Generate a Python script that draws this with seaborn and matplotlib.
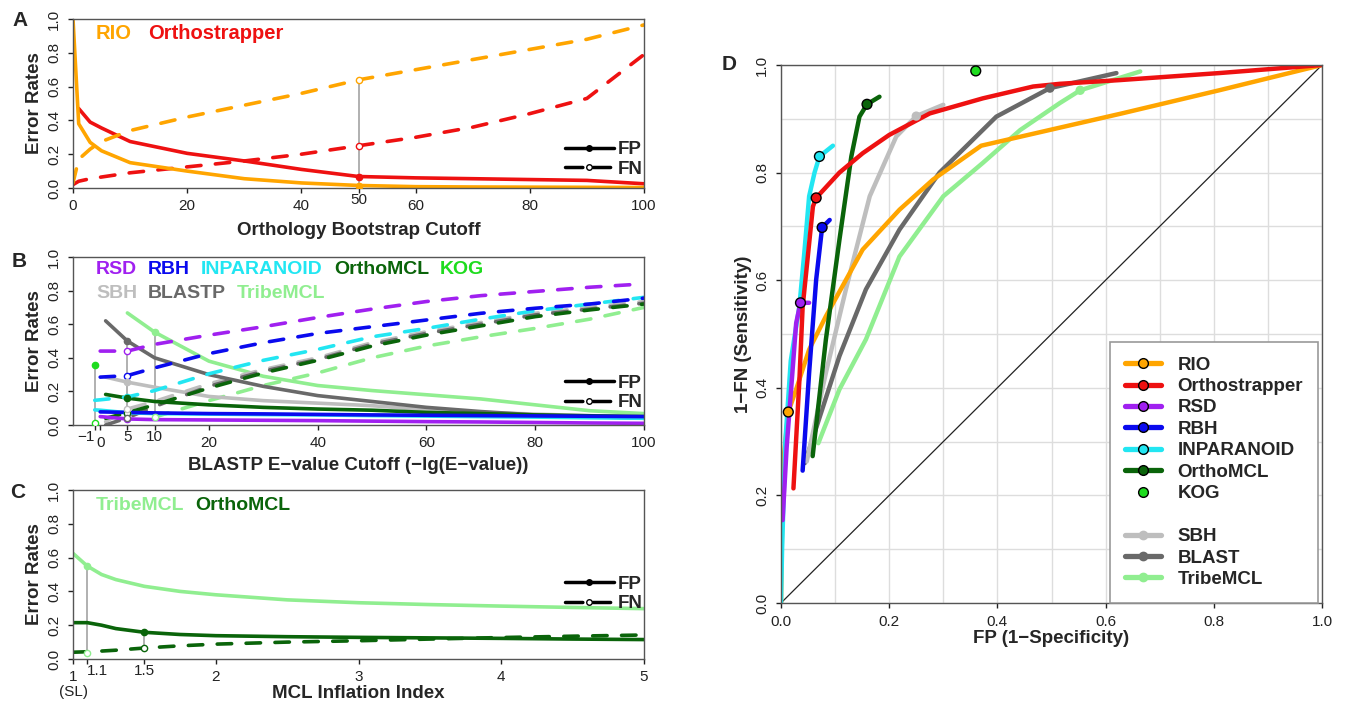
import pandas as pd
import matplotlib
matplotlib.use("Agg")
import matplotlib.pyplot as plt
import matplotlib.transforms as mtransforms
from matplotlib.lines import Line2D
import numpy as np
import seaborn as sns

# ---------------- colours ----------------
colors = {
    "RIO": "#FFA500", "Orthostrapper": "#EE1111", "RSD": "#A020F0",
    "RBH": "#0A0AEE", "INPARANOID": "#22E6F2", "OrthoMCL": "#0A640A",
    "KOG": "#1EDC1E", "SBH": "#BEBEBE", "BLASTP": "#696969",
    "BLAST": "#696969", "TribeMCL": "#90EE90",
}

# ---------------- panel A: bootstrap cutoff ----------------
a_x = [0, 1, 3, 5, 10, 20, 30, 40, 50, 60, 70, 80, 90, 100]
a_rio_fp = [1.0, 0.38, 0.27, 0.22, 0.15, 0.10, 0.055, 0.03, 0.015, 0.008, 0.006, 0.005, 0.004, 0.003]
a_rio_fn = [0.03, 0.17, 0.23, 0.275, 0.34, 0.42, 0.49, 0.56, 0.64, 0.70, 0.76, 0.82, 0.88, 0.965]
a_orth_fp_x = [1, 3, 5, 10, 20, 30, 40, 50, 60, 70, 80, 90, 100]
a_orth_fp = [0.47, 0.39, 0.355, 0.275, 0.205, 0.16, 0.11, 0.068, 0.06, 0.055, 0.05, 0.045, 0.025]
a_orth_fn = [0.02, 0.04, 0.055, 0.065, 0.09, 0.125, 0.16, 0.20, 0.25, 0.30, 0.36, 0.44, 0.53, 0.79]
a_mark_methods = ["RIO", "Orthostrapper"]
a_mark_x = [50, 50]
a_mark_fp = [0.012, 0.068]
a_mark_fn = [0.64, 0.25]

# ---------------- panel B: BLASTP e-value cutoff ----------------
b_x = [0, 5, 10, 20, 30, 40, 50, 60, 70, 80, 90, 100]
b_x1 = [1, 5, 10, 20, 30, 40, 50, 60, 70, 80, 90, 100]
b_xm1 = [-1, 0, 5, 10, 20, 30, 40, 50, 60, 70, 80, 90, 100]
b_rsd_fn = [0.44, 0.44, 0.48, 0.535, 0.585, 0.64, 0.69, 0.735, 0.77, 0.795, 0.82, 0.84]
b_rsd_fp = [0.05, 0.036, 0.032, 0.03, 0.028, 0.026, 0.023, 0.02, 0.018, 0.015, 0.012, 0.01]
b_rbh_fn = [0.285, 0.294, 0.34, 0.425, 0.49, 0.545, 0.585, 0.625, 0.665, 0.695, 0.72, 0.755]
b_rbh_fp = [0.078, 0.075, 0.072, 0.068, 0.066, 0.063, 0.06, 0.058, 0.056, 0.054, 0.052, 0.05]
b_inp_fn = [0.147, 0.15, 0.167, 0.205, 0.305, 0.385, 0.45, 0.525, 0.575, 0.63, 0.68, 0.72, 0.76]
b_inp_fp = [0.09, 0.088, 0.073, 0.068, 0.065, 0.062, 0.06, 0.056, 0.053, 0.05, 0.047, 0.043, 0.04]
b_omcl_fn = [0.04, 0.073, 0.12, 0.22, 0.31, 0.385, 0.47, 0.535, 0.59, 0.645, 0.685, 0.72]
b_omcl_fp = [0.182, 0.16, 0.14, 0.12, 0.105, 0.095, 0.088, 0.075, 0.068, 0.06, 0.055, 0.05]
b_sbh_fn = [0.02, 0.095, 0.14, 0.245, 0.33, 0.40, 0.49, 0.555, 0.61, 0.665, 0.70, 0.735]
b_sbh_fp = [0.285, 0.255, 0.225, 0.17, 0.145, 0.13, 0.115, 0.09, 0.075, 0.065, 0.055, 0.05]
b_blast_fn = [0.0, 0.043, 0.11, 0.23, 0.32, 0.39, 0.48, 0.545, 0.60, 0.655, 0.69, 0.725]
b_blast_fp = [0.62, 0.50, 0.40, 0.30, 0.23, 0.175, 0.14, 0.105, 0.08, 0.06, 0.05, 0.04]
b_tribe_fp_x = [5, 10, 20, 30, 40, 50, 60, 70, 80, 90, 100]
b_tribe_fp = [0.667, 0.553, 0.38, 0.29, 0.235, 0.205, 0.18, 0.155, 0.12, 0.085, 0.068]
b_tribe_fn_x = [10, 20, 30, 40, 50, 60, 70, 80, 90, 100]
b_tribe_fn = [0.047, 0.145, 0.235, 0.31, 0.40, 0.47, 0.525, 0.575, 0.63, 0.70]
b_mark_methods = ["RSD", "RBH", "INPARANOID", "OrthoMCL", "SBH", "BLASTP", "TribeMCL", "KOG"]
b_mark_x = [5, 5, 5, 5, 5, 5, 10, -1]
b_mark_fp = [0.036, 0.075, 0.073, 0.16, 0.255, 0.50, 0.553, 0.36]
b_mark_fn = [0.44, 0.294, 0.167, 0.073, 0.095, 0.043, 0.047, 0.011]

# ---------------- panel C: MCL inflation ----------------
c_x = [1, 1.1, 1.2, 1.3, 1.5, 1.75, 2, 2.5, 3, 3.5, 4, 4.5, 5]
c_tribe_fp = [0.625, 0.55, 0.50, 0.47, 0.43, 0.40, 0.38, 0.35, 0.333, 0.322, 0.313, 0.305, 0.298]
c_omcl_fp = [0.215, 0.215, 0.20, 0.18, 0.158, 0.145, 0.138, 0.132, 0.128, 0.125, 0.122, 0.118, 0.115]
c_omcl_fn = [0.04, 0.043, 0.047, 0.052, 0.065, 0.078, 0.088, 0.10, 0.108, 0.118, 0.127, 0.135, 0.142]
c_mark_methods = ["TribeMCL", "OrthoMCL"]
c_mark_x = [1.1, 1.5]
c_mark_fp = [0.55, 0.158]
c_mark_fn = [0.033, 0.065]

# ---------------- panel D: ROC ----------------
d_curves = {
    "TribeMCL": ([0.069, 0.108, 0.157, 0.219, 0.30, 0.373, 0.442, 0.515, 0.553, 0.664],
                 [0.297, 0.397, 0.49, 0.644, 0.756, 0.818, 0.879, 0.929, 0.953, 0.988]),
    "BLAST": ([0.044, 0.108, 0.157, 0.219, 0.293, 0.398, 0.497, 0.62],
              [0.26, 0.459, 0.583, 0.694, 0.80, 0.904, 0.957, 0.985]),
    "SBH": ([0.0475, 0.083, 0.12, 0.164, 0.213, 0.25, 0.30],
            [0.263, 0.428, 0.583, 0.756, 0.867, 0.905, 0.926]),
    "RIO": ([0, 0.002, 0.006, 0.0135, 0.028, 0.052, 0.083, 0.151, 0.219, 0.281, 0.37, 0.5, 0.63, 0.81, 1.0],
            [0, 0.15, 0.28, 0.355, 0.397, 0.471, 0.533, 0.657, 0.731, 0.787, 0.85, 0.88, 0.91, 0.953, 1.0]),
    "OrthoMCL": ([0.0585, 0.083, 0.108, 0.13, 0.145, 0.159, 0.182],
                 [0.273, 0.49, 0.675, 0.83, 0.904, 0.927, 0.941]),
    "INPARANOID": ([0.0, 0.002, 0.008, 0.018, 0.034, 0.043, 0.052, 0.062, 0.071, 0.096],
                   [0.0, 0.1, 0.3, 0.45, 0.552, 0.65, 0.756, 0.80, 0.83, 0.85]),
    "RBH": ([0.04, 0.052, 0.065, 0.076, 0.09], [0.246, 0.428, 0.601, 0.698, 0.712]),
    "RSD": ([0.003, 0.0105, 0.02, 0.028, 0.036, 0.052], [0.154, 0.29, 0.414, 0.52, 0.558, 0.558]),
    "Orthostrapper": ([0.023, 0.034, 0.04, 0.059, 0.065, 0.108, 0.151, 0.2, 0.275, 0.373, 0.466, 0.515, 0.627, 0.81, 1.0],
                      [0.213, 0.414, 0.55, 0.737, 0.753, 0.80, 0.836, 0.87, 0.91, 0.938, 0.96, 0.965, 0.972, 0.985, 1.0]),
}
d_pt_methods = ["RIO", "Orthostrapper", "RSD", "RBH", "INPARANOID", "OrthoMCL", "KOG", "SBH", "BLAST", "TribeMCL"]
d_pt_fp = [0.0135, 0.065, 0.036, 0.076, 0.071, 0.159, 0.36, 0.25, 0.497, 0.553]
d_pt_sens = [0.355, 0.753, 0.558, 0.698, 0.83, 0.927, 0.989, 0.905, 0.957, 0.953]
d_edged = ["RIO", "Orthostrapper", "RSD", "RBH", "INPARANOID", "OrthoMCL", "KOG"]


def to_long(series):
    rows = []
    for (method, kind), (xs, ys) in series.items():
        for x, y in zip(xs, ys):
            rows.append({"method": method, "kind": kind, "x": x, "y": y})
    return pd.DataFrame(rows)


sns.set_style("ticks")
plt.rcParams["font.family"] = ["Liberation Sans", "DejaVu Sans"]
plt.rcParams["lines.dash_capstyle"] = "round"

W, H = 1345, 710
fig = plt.figure(figsize=(W / 100, H / 100), dpi=100)
renderer = fig.canvas.get_renderer()


def px_axes(l, t, r, b):
    return fig.add_axes([l / W, 1 - b / H, (r - l) / W, (b - t) / H])


axA = px_axes(73, 19, 644, 188)
axB = px_axes(73, 257, 644, 425)
axC = px_axes(73, 490, 644, 659)
axD = px_axes(781, 65, 1322, 603)

fp_fn_handles = [
    Line2D([], [], color="black", lw=2.5, marker="o", ms=4, mfc="black"),
    Line2D([], [], color="black", lw=2.5, dashes=(5.0, 3.0), marker="o", ms=4, mfc="white", mew=1),
]
TICK_LEN = 3.6
PAD_MAIN, PAD_EXTRA = 4.2, 0.0


def draw_rates(ax, df, order, lw):
    sns.lineplot(data=df, x="x", y="y", hue="method", style="kind", hue_order=order,
                 style_order=["FP", "FN"], palette=colors, dashes={"FP": "", "FN": (4, 4)},
                 estimator=None, errorbar=None, lw=lw, legend=False, ax=ax)


def draw_marks(ax, methods, xs, fps, fns):
    marks = pd.DataFrame({"method": methods, "x": xs, "fp": fps, "fn": fns})
    for x, grp in marks.groupby("x"):
        lo = min(grp["fp"].min(), grp["fn"].min())
        hi = max(grp["fp"].max(), grp["fn"].max())
        ax.vlines(x, lo, hi, color="#AAAAAA", lw=1.3, zorder=1.5)
    for _, r in marks.iterrows():
        c = colors[r["method"]]
        ax.plot(r["x"], r["fp"], "o", ms=4.5, color=c, mec=c, zorder=4)
        ax.plot(r["x"], r["fn"], "o", ms=4.5, mfc="white", mec=c, mew=1, zorder=4)


def style_rates(ax, xlim, xlabel, xlabelpad, leg_y):
    ax.set_xlim(*xlim)
    ax.set_ylim(0, 1)
    yt = np.arange(0, 1.01, 0.2)
    ax.set_yticks(yt)
    ax.set_yticklabels([f"{v:.1f}" for v in yt], rotation=90, va="center")
    ax.tick_params(direction="out", length=TICK_LEN, width=1, colors="#222222", labelsize=11)
    ax.tick_params(axis="y", pad=5)
    for s in ax.spines.values():
        s.set_color("#555555")
        s.set_linewidth(1)
    ax.set_xlabel(xlabel, fontsize=13.5, fontweight="bold", labelpad=xlabelpad)
    ax.set_ylabel("Error Rates", fontsize=13.5, fontweight="bold", labelpad=3)
    ax.legend(handles=fp_fn_handles, labels=["FP", "FN"], loc="center right",
              bbox_to_anchor=(0.997, leg_y), frameon=False, handlelength=2.6,
              handletextpad=0.2, labelspacing=0.12, borderpad=0, borderaxespad=0,
              prop={"weight": "bold", "size": 13.5})


def set_tick_pads(ax, raised):
    for i, t in enumerate(ax.xaxis.get_major_ticks()):
        t.set_pad(PAD_EXTRA if i in raised else PAD_MAIN)


def label_row(ax, names, y_frac, x0=96, gap=12, size=14):
    # coloured method names laid out left to right, x in figure pixels
    trans = mtransforms.blended_transform_factory(fig.transFigure, ax.transAxes)
    x = x0
    for name in names:
        t = ax.text(x / W, y_frac, name, color=colors[name], transform=trans,
                    fontsize=size, fontweight="bold", va="center", ha="left")
        x = t.get_window_extent(renderer=renderer).x1 + gap


# ---- A ----
dfA = to_long({
    ("Orthostrapper", "FP"): (a_orth_fp_x, a_orth_fp),
    ("Orthostrapper", "FN"): (a_x, a_orth_fn),
    ("RIO", "FP"): (a_x, a_rio_fp),
    ("RIO", "FN"): (a_x, a_rio_fn),
})
draw_rates(axA, dfA, ["Orthostrapper", "RIO"], 2.6)
draw_marks(axA, a_mark_methods, a_mark_x, a_mark_fp, a_mark_fn)
style_rates(axA, (0, 100), "Orthology Bootstrap Cutoff", 6.5, 0.17)
axA.set_xticks([0, 20, 40, 50, 60, 80, 100])
set_tick_pads(axA, (3,))
label_row(axA, ["RIO", "Orthostrapper"], 0.915, gap=16, size=14.5)

# ---- B ----
dfB = to_long({
    ("TribeMCL", "FP"): (b_tribe_fp_x, b_tribe_fp),
    ("TribeMCL", "FN"): (b_tribe_fn_x, b_tribe_fn),
    ("BLASTP", "FP"): (b_x1, b_blast_fp),
    ("BLASTP", "FN"): (b_x1, b_blast_fn),
    ("SBH", "FP"): (b_x1, b_sbh_fp),
    ("SBH", "FN"): (b_x1, b_sbh_fn),
    ("OrthoMCL", "FP"): (b_x1, b_omcl_fp),
    ("OrthoMCL", "FN"): (b_x1, b_omcl_fn),
    ("INPARANOID", "FP"): (b_xm1, b_inp_fp),
    ("INPARANOID", "FN"): (b_xm1, b_inp_fn),
    ("RBH", "FP"): (b_x, b_rbh_fp),
    ("RBH", "FN"): (b_x, b_rbh_fn),
    ("RSD", "FP"): (b_x, b_rsd_fp),
    ("RSD", "FN"): (b_x, b_rsd_fn),
})
draw_rates(axB, dfB, ["TribeMCL", "SBH", "BLASTP", "OrthoMCL", "INPARANOID", "RBH", "RSD"], 2.6)
draw_marks(axB, b_mark_methods, b_mark_x, b_mark_fp, b_mark_fn)
style_rates(axB, (-5, 100), "BLASTP E\u2212value Cutoff (\u2212lg(E\u2212value))", 5.5, 0.19)
axB.set_xticks([-1, 0, 5, 10, 20, 40, 60, 80, 100])
axB.set_xticklabels(["\u22121", "0", "5", "10", "20", "40", "60", "80", "100"])
set_tick_pads(axB, (0, 2, 3))
axB.get_xticklabels()[0].set_ha("right")
label_row(axB, ["RSD", "RBH", "INPARANOID", "OrthoMCL", "KOG"], 0.925, gap=11, size=14)
label_row(axB, ["SBH", "BLASTP", "TribeMCL"], 0.78, gap=11, size=14)

# ---- C ----
dfC = to_long({
    ("TribeMCL", "FP"): (c_x, c_tribe_fp),
    ("OrthoMCL", "FP"): (c_x, c_omcl_fp),
    ("OrthoMCL", "FN"): (c_x, c_omcl_fn),
})
draw_rates(axC, dfC, ["TribeMCL", "OrthoMCL"], 2.6)
draw_marks(axC, c_mark_methods, c_mark_x, c_mark_fp, c_mark_fn)
style_rates(axC, (1, 5), "MCL Inflation Index", 1.0, 0.385)
axC.set_xticks([1, 1.1, 1.5, 2, 3, 4, 5])
axC.set_xticklabels(["1", "1.1", "1.5", "2", "3", "4", "5"])
set_tick_pads(axC, (1, 2))
axC.get_xticklabels()[1].set_ha("left")
axC.annotate("(SL)", xy=(1, 0), xycoords=("data", "axes fraction"), xytext=(0, -18.5),
             textcoords="offset points", ha="center", va="top", fontsize=11, color="#222222")
label_row(axC, ["TribeMCL", "OrthoMCL"], 0.91, gap=11, size=14)

# ---- D ----
dfD = pd.concat([pd.DataFrame({"method": m, "fp": v[0], "sens": v[1]}) for m, v in d_curves.items()])
axD.set_xticks(np.arange(0, 1.01, 0.1), minor=True)
axD.set_yticks(np.arange(0, 1.01, 0.1), minor=True)
axD.grid(True, which="both", color="#DDDDDD", lw=1)
axD.set_axisbelow(True)
axD.axline((0, 0), slope=1, color="#222222", lw=0.9, zorder=1.5)
sns.lineplot(data=dfD, x="fp", y="sens", hue="method", hue_order=list(d_curves.keys()),
             palette=colors, sort=False, estimator=None, errorbar=None, lw=3.2,
             legend=False, ax=axD)
pts = pd.DataFrame({"method": d_pt_methods, "fp": d_pt_fp, "sens": d_pt_sens})
edged = pts[pts["method"].isin(d_edged)]
plain = pts[~pts["method"].isin(d_edged)]
sns.scatterplot(data=plain, x="fp", y="sens", hue="method", palette=colors, s=45,
                edgecolor="none", legend=False, ax=axD, zorder=5)
sns.scatterplot(data=edged, x="fp", y="sens", hue="method", palette=colors, s=50,
                edgecolor="black", linewidth=1, legend=False, ax=axD, zorder=6)
axD.set_xlim(0, 1)
axD.set_ylim(0, 1)
ticks = np.arange(0, 1.01, 0.2)
axD.set_xticks(ticks)
axD.set_yticks(ticks)
axD.set_xticklabels([f"{v:.1f}" for v in ticks])
axD.set_yticklabels([f"{v:.1f}" for v in ticks], rotation=90, va="center")
axD.tick_params(which="major", direction="out", length=TICK_LEN, width=1, colors="#222222",
                labelsize=11, pad=5)
axD.tick_params(which="minor", length=0)
for s in axD.spines.values():
    s.set_color("#555555")
    s.set_linewidth(1)
axD.set_xlabel("FP (1\u2212Specificity)", fontsize=13.5, fontweight="bold", labelpad=1)
axD.set_ylabel("1\u2212FN (Sensitivity)", fontsize=13.5, fontweight="bold", labelpad=2)

leg_handles, leg_labels = [], []
for m in ["RIO", "Orthostrapper", "RSD", "RBH", "INPARANOID", "OrthoMCL"]:
    leg_handles.append(Line2D([], [], color=colors[m], lw=3.8, marker="o", ms=7,
                              mfc=colors[m], mec="black", mew=1))
    leg_labels.append(m)
leg_handles.append(Line2D([], [], ls="none", marker="o", ms=7, mfc=colors["KOG"], mec="black", mew=1))
leg_labels.append("KOG")
leg_handles.append(Line2D([], [], ls="none"))
leg_labels.append("")
for m in ["SBH", "BLAST", "TribeMCL"]:
    leg_handles.append(Line2D([], [], color=colors[m], lw=3.8, marker="o", ms=6,
                              mfc=colors[m], mec=colors[m]))
    leg_labels.append(m)
leg = axD.legend(handles=leg_handles, labels=leg_labels, loc="lower right",
                 bbox_to_anchor=(0.993, 0.0), borderaxespad=0, frameon=True, fancybox=False,
                 edgecolor="#999999", framealpha=1, handlelength=1.9, labelspacing=0.23,
                 borderpad=0.8, handletextpad=0.9, prop={"weight": "bold", "size": 13.5})
leg.get_frame().set_linewidth(1.2)

# panel letters
for letter, (x, y) in {"A": (12, 20), "B": (12, 262), "C": (10, 493), "D": (722, 65)}.items():
    fig.text(x / W, 1 - y / H, letter, fontsize=15, fontweight="bold", va="center", ha="left")

fig.savefig("out.png", dpi=100)
